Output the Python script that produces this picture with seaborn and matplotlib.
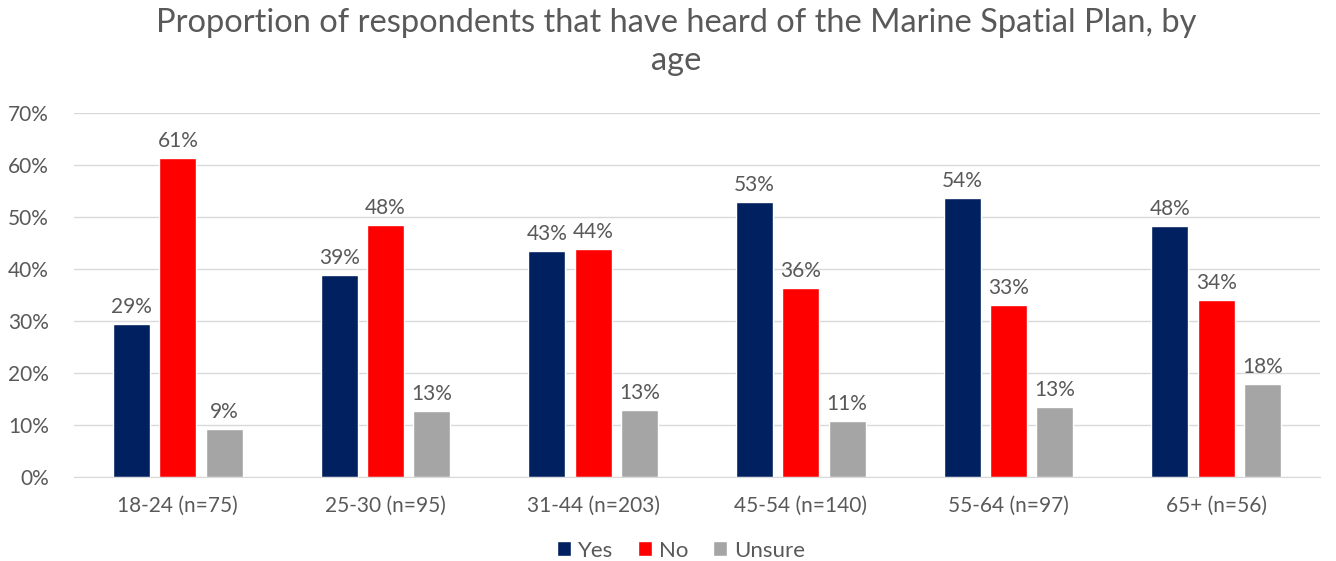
import numpy as np
import matplotlib.pyplot as plt
import seaborn as sns
import pandas as pd

ages = ['18-24 (n=75)', '25-30 (n=95)', '31-44 (n=203)', '45-54 (n=140)', '55-64 (n=97)', '65+ (n=56)']
yes = [29.4, 38.9, 43.4, 52.9, 53.7, 48.3]
no = [61.4, 48.5, 43.9, 36.4, 33.0, 34.0]
unsure = [9.3, 12.7, 12.8, 10.8, 13.4, 17.9]
answers = ['Yes', 'No', 'Unsure']
colors = ['#002060', '#FF0000', '#A5A5A5']

df = pd.DataFrame({'age': ages * 3,
                   'answer': np.repeat(answers, len(ages)),
                   'pct': yes + no + unsure})

sns.set_style('white')
plt.rcParams['font.family'] = ['Lato', 'DejaVu Sans']
txt = '#595959'

fig = plt.figure(figsize=(13.36, 5.61), dpi=100)
ax = fig.add_axes([0.0554, 0.150, 0.9326, 0.6486])

sns.barplot(data=df, x='age', y='pct', hue='answer', hue_order=answers,
            palette=colors, saturation=1, width=0.67, gap=0.2, ax=ax, legend=True)

for cont in ax.containers:
    ax.bar_label(cont, labels=[f'{v:.0f}%' for v in cont.datavalues],
                 padding=5, fontsize=15, color=txt)

ax.set_ylim(0, 70)
ax.set_yticks(range(0, 71, 10))
ax.set_yticklabels([f'{t}%' for t in range(0, 71, 10)])
ax.set_xlim(-0.5, 5.5)
ax.yaxis.grid(True, color='#D9D9D9', linewidth=1)
ax.set_axisbelow(True)
for s in ['top', 'right', 'left']:
    ax.spines[s].set_visible(False)
ax.spines['bottom'].set_color('#D9D9D9')
ax.tick_params(axis='both', length=0, labelsize=15, colors=txt)
ax.tick_params(axis='x', pad=14)
ax.tick_params(axis='y', pad=18)
ax.set_xlabel('')
ax.set_ylabel('')

ax.legend(loc='lower center', bbox_to_anchor=(0.487, -0.285), ncol=3, frameon=False,
          fontsize=16, labelcolor=txt, handlelength=0.65, handleheight=0.65,
          handletextpad=0.3, columnspacing=1.1)

fig.suptitle('Proportion of respondents that have heard of the Marine Spatial Plan, by\nage',
             x=0.506, y=0.985, fontsize=23.5, color=txt, linespacing=1.3)

fig.savefig('out.png', dpi=100)
